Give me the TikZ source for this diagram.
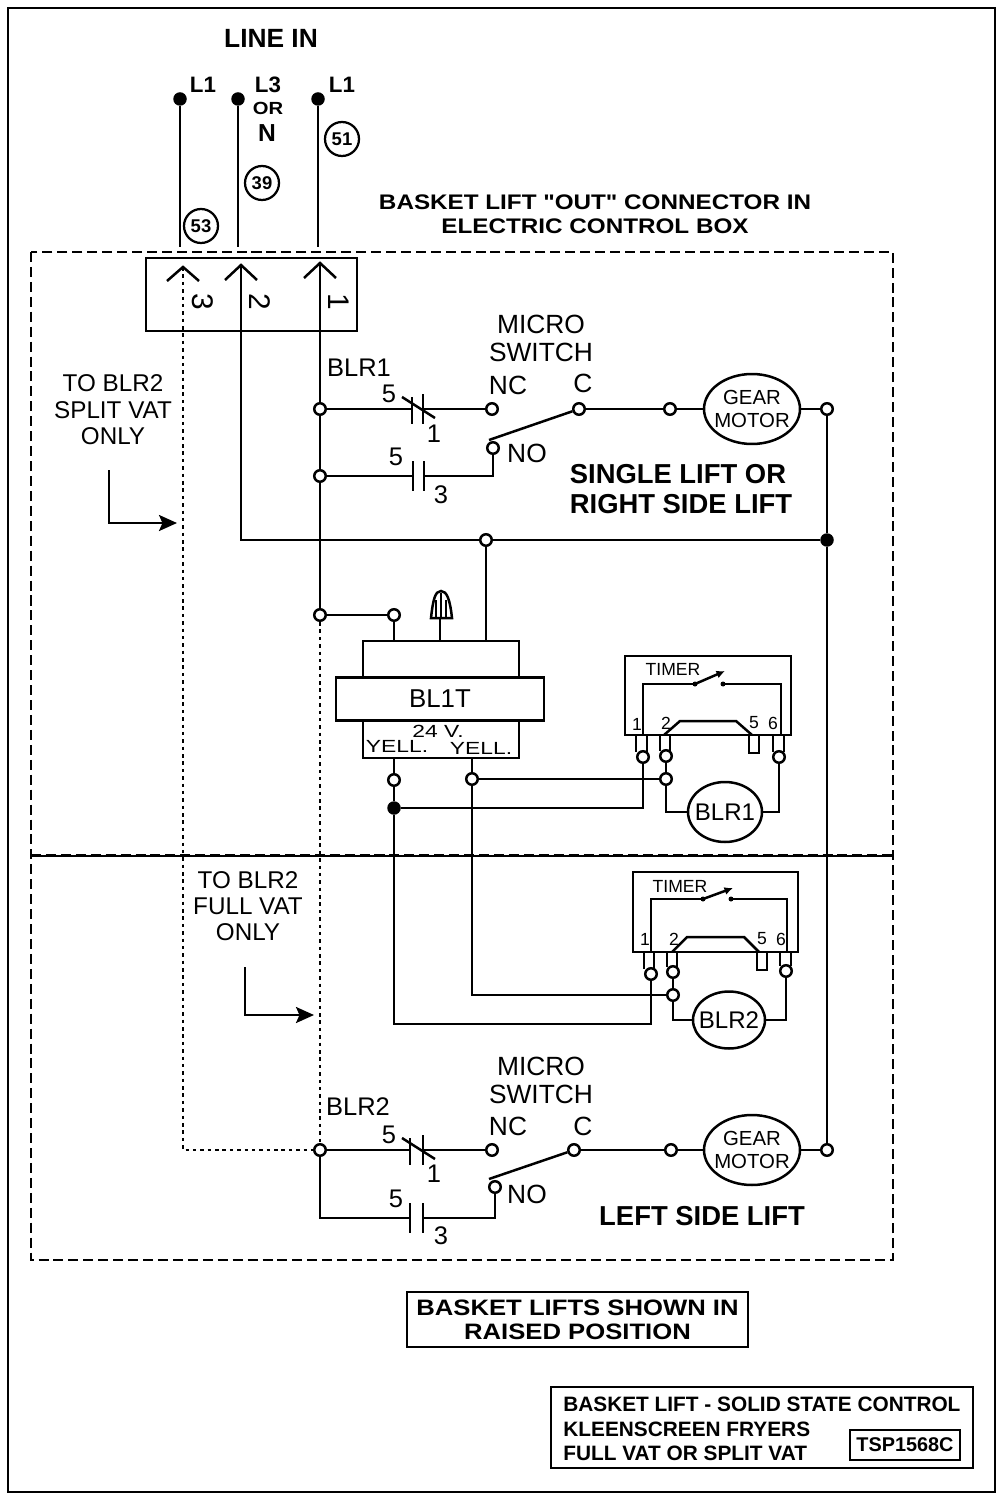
\documentclass[tikz,border=0pt]{standalone}
\usepackage{fontspec}
\setmainfont{Liberation Sans}
\newfontfamily\widebold[FakeStretch=1.15]{Liberation Sans Bold}
\newfontfamily\widereg[FakeStretch=1.3]{Liberation Sans}
\usetikzlibrary{shapes.geometric,arrows.meta}

\begin{document}
\begin{tikzpicture}[x=0.02cm,y=-0.02cm]
      \tikzset{
        every node/.style={inner sep=0pt},
        wire/.style={line width=0.05cm},
        dotwire/.style={line width=0.055cm,dash pattern=on 2pt off 2.2pt},
        frame/.style={line width=0.055cm},
        dashframe/.style={line width=0.04cm,dash pattern=on 5.7pt off 2.8pt},
        term/.style={circle,draw,line width=0.05cm,fill=white,minimum size=0.23cm},
        jdot/.style={circle,fill=black,minimum size=0.27cm},
        tag/.style={circle,draw,line width=0.045cm,minimum size=0.68cm,font=\bfseries\fontsize{10.5}{11}\selectfont},
        motor/.style={ellipse,draw,line width=0.05cm,fill=white,align=center,inner xsep=-0.1cm,font=\fontsize{11.6}{13}\selectfont},
        relay/.style={ellipse,draw,line width=0.05cm,inner xsep=-0.1cm,font=\fontsize{13.7}{14}\selectfont},
        micro/.style={font=\fontsize{15}{16}\selectfont,align=center},
        contact/.style={font=\fontsize{14.5}{15}\selectfont},
        pinno/.style={font=\fontsize{17}{17}\selectfont,rotate=-90},
        side/.style={font=\fontsize{13.8}{15}\selectfont,align=center},
        lift/.style={font=\bfseries\fontsize{15.6}{17}\selectfont,align=left},
        head/.style={font=\widebold\fontsize{12}{13.7}\selectfont,align=center},
        small/.style={font=\fontsize{10}{11}\selectfont},
        title/.style={font=\bfseries\fontsize{11.85}{14}\selectfont,align=left},
        bigtip/.style={-{Stealth[length=0.36cm,width=0.32cm,inset=0.07cm]}},
        smalltip/.style={-{Latex[length=0.17cm,width=0.16cm]}}
      }
      \useasboundingbox (0,0) rectangle (1000,1496);
      \draw[frame] (8,8) rectangle (995,1492);

      % line in
      \node[font=\bfseries\fontsize{15}{16}\selectfont] (linein) at (271,38) {LINE IN};
      \node[jdot] (p1) at (180,99) {};
      \node[jdot] (p2) at (238,99) {};
      \node[jdot] (p3) at (318,99) {};
      \node[font=\bfseries\fontsize{12.7}{13}\selectfont] (l1a) at (203,85) {L1};
      \node[font=\bfseries\fontsize{12.7}{13}\selectfont] (l3) at (268,85) {L3};
      \node[font=\widebold\fontsize{10}{11}\selectfont] (lor) at (268,108) {OR};
      \node[font=\bfseries\fontsize{14}{15}\selectfont] (ln) at (267,133) {N};
      \node[font=\bfseries\fontsize{12.7}{13}\selectfont] (l1b) at (342,85) {L1};
      \node[tag] (w53) at (201,226) {53};
      \node[tag] (w39) at (262,183) {39};
      \node[tag] (w51) at (342,139) {51};
      \coordinate (e1) at (180,247);
      \coordinate (e2) at (238,247);
      \coordinate (e3) at (318,247);
      \draw[wire] (p1) -- (e1) (p2) -- (e2) (p3) -- (e3);

      \node[head] (boxhead) at (595,214) {BASKET LIFT "OUT" CONNECTOR IN\\ELECTRIC CONTROL BOX};
      \draw[dashframe] (31,252) rectangle (893,1260);
      \draw[dashframe] (31,855) -- (893,855);
      \draw[line width=0.03cm] (31,856) -- (893,856);

      % connector
      \draw[frame] (146,258) rectangle (357,331);
      \coordinate (a3) at (183,267);
      \coordinate (a2) at (241,265);
      \coordinate (a1) at (320,263);
      \draw[wire] (a3) ++(-16,14) -- (a3) -- ++(16,14);
      \draw[wire] (a2) ++(-16,15) -- (a2) -- ++(16,15);
      \draw[wire] (a1) ++(-16,15) -- (a1) -- ++(16,15);
      \node[pinno] (n3) at (203,302) {3};
      \node[pinno] (n2) at (260,302) {2};
      \node[pinno] (n1) at (339,302) {1};

      % terminals
      \node[term] (t1) at (320,409) {};
      \node[term] (t2) at (320,476) {};
      \node[term] (t3) at (320,615) {};
      \node[term] (t4) at (394,615) {};
      \node[term] (t5) at (486,540) {};
      \node[jdot] (j1) at (827,540) {};
      \node[term] (nc1) at (492,409) {};
      \node[term] (c1) at (579,409) {};
      \node[term] (no1) at (493,448) {};
      \node[term] (m1) at (670,409) {};
      \node[term] (r1) at (827,409) {};
      \node[motor,minimum width=1.92cm,minimum height=1.4cm] (gear1) at (752,409) {GEAR\\MOTOR};
      \node[term] (t6) at (320,1150) {};
      \node[term] (nc2) at (492,1150) {};
      \node[term] (c2) at (574,1150) {};
      \node[term] (no2) at (495,1187) {};
      \node[term] (m2) at (671,1150) {};
      \node[term] (r2) at (827,1150) {};
      \node[motor,minimum width=1.92cm,minimum height=1.4cm] (gear2) at (752,1150) {GEAR\\MOTOR};

      % main wires
      \draw[dotwire] (a3) -- (183,1150) -- (t6);
      \draw[dotwire] (t3) -- (t6);
      \draw[wire] (a2) |- (t5);
      \draw[wire] (t5) -- (j1);
      \draw[wire] (a1) -- (t1);
      \draw[wire] (t1) -- (t2);
      \draw[wire] (t2) -- (t3);
      \draw[wire] (t3) -- (t4);
      \draw[wire] (r1) -- (j1);
      \draw[wire] (j1) -- (r2);

      % single lift
      \node[micro] (sw1) at (541,338) {MICRO\\SWITCH};
      \node[contact] (b1) at (359,368) {BLR1};
      \node[contact] (c1a) at (389,394) {5};
      \node[contact] (c1b) at (434,434) {1};
      \node[contact] (c1c) at (396,457) {5};
      \node[contact] (c1d) at (441,495) {3};
      \node[micro] (lnc1) at (508,385) {NC};
      \node[micro] (lc1) at (583,383) {C};
      \node[micro] (lno1) at (527,453) {NO};
      \coordinate (k1) at (412,409);
      \coordinate (k2) at (423,409);
      \coordinate (k3) at (413,476);
      \coordinate (k4) at (424,476);
      \coordinate (arm1) at (489,440);
      \draw[wire] (t1) -- (k1) (k2) -- (nc1);
      \draw[wire] (k1) ++(0,-12) -- ++(0,27);
      \draw[wire] (k2) ++(0,-15) -- ++(0,30);
      \draw[wire] (402,397) -- (435,418);
      \draw[wire] (t2) -- (k3) (k4) -| (no1);
      \draw[wire] (k3) ++(0,-15) -- ++(0,30);
      \draw[wire] (k4) ++(0,-15) -- ++(0,30);
      \draw[wire] (arm1) -- (c1);
      \draw[wire] (c1) -- (m1);
      \draw[wire] (m1) -- (gear1);
      \draw[wire] (gear1) -- (r1);
      \node[lift] (right) at (681,489) {SINGLE LIFT OR\\RIGHT SIDE LIFT};

      % side notes
      \node[side] (split) at (113,410) {TO BLR2\\SPLIT VAT\\ONLY};
      \coordinate (s1) at (109,470);
      \coordinate (s2) at (177,523);
      \draw[wire,bigtip] (s1) |- (s2);
      \node[side] (full) at (248,906) {TO BLR2\\FULL VAT\\ONLY};
      \coordinate (s3) at (245,967);
      \coordinate (s4) at (314,1015);
      \draw[wire,bigtip] (s3) |- (s4);

      % transformer
      \draw[wire] (363,641) rectangle (519,758);
      \node[draw,frame,fill=white,minimum width=4.16cm,minimum height=0.86cm,font=\fontsize{14.7}{15}\selectfont] (bl1t) at (440,699) {BL1T};
      \node[font=\widereg\fontsize{10}{11}\selectfont] (v24) at (438,731) {24 V.};
      \node[font=\widereg\fontsize{10}{11}\selectfont] (y1) at (397,746) {YELL.};
      \node[font=\widereg\fontsize{10}{11}\selectfont] (y2) at (481,748) {YELL.};
      \coordinate (nut) at (440,641);
      \draw[wire] (nut) -- (440,618);
      \draw[wire,fill=white] (431,618) .. controls (433,600) and (435,591) .. (441,591) .. controls (447,591) and (450,600) .. (452,618) -- cycle;
      \draw[line width=0.03cm] (436,600) -- (436,617) (441,593) -- (441,617) (446,600) -- (446,617);
      \draw[wire] (t4) -- (394,641);
      \draw[wire] (t5) -- (486,641);
      \node[term] (t7) at (394,780) {};
      \node[term] (t8) at (472,779) {};
      \node[jdot] (j2) at (394,808) {};
      \draw[wire] (394,758) -- (t7);
      \draw[wire] (472,758) -- (t8);
      \draw[wire] (t7) -- (j2);

      % first timer
      \draw[frame] (625,656) rectangle (791,735);
      \node[small] (tm1) at (673,669) {TIMER};
      \node[small] (p1a) at (637,724) {1};
      \node[small] (p1b) at (666,723) {2};
      \node[small] (p1c) at (754,723) {5};
      \node[small] (p1d) at (773,723) {6};
      \draw[wire] (643,735) |- (695,684);
      \draw[wire] (723,684) -| (781,735);
      \draw[wire,smalltip] (695,684) -- (725,671);
      \fill (723,684) circle (2.5);
      \fill (695,684) circle (2.5);
      \draw[wire] (664,735) -- (680,721) -- (736,721) -- (752,735);
      \node[term] (q1) at (643,757) {};
      \node[term] (q2) at (666,756) {};
      \node[term] (q6) at (779,757) {};
      \node[term] (q3) at (666,779) {};
      \draw[wire] (636,735) -- (636,752) (647,735) -- (647,752);
      \draw[wire] (660,735) -- (660,751) (670,735) -- (670,751);
      \draw[wire] (749,735) -- (749,753) -- (759,753) -- (759,735);
      \draw[wire] (773,735) -- (773,752) (784,735) -- (784,752);
      \node[relay,minimum width=1.48cm,minimum height=1.2cm] (blr1) at (725,812) {BLR1};
      \draw[wire] (q2) -- (q3);
      \draw[wire] (q3) |- (blr1.west);
      \draw[wire] (blr1.east) -| (q6);
      \draw[wire] (t8) -- (q3);
      \draw[wire] (j2) -| (q1);

      % second timer
      \draw[frame] (633,872) rectangle (798,952);
      \node[small] (tm2) at (680,886) {TIMER};
      \node[small] (p2a) at (645,939) {1};
      \node[small] (p2b) at (674,939) {2};
      \node[small] (p2c) at (762,939) {5};
      \node[small] (p2d) at (781,939) {6};
      \draw[wire] (651,952) |- (703,899);
      \draw[wire] (731,899) -| (787,952);
      \draw[wire,smalltip] (703,899) -- (733,888);
      \fill (703,899) circle (2.5);
      \fill (731,899) circle (2.5);
      \draw[wire] (672,952) -- (687,937) -- (744,937) -- (759,952);
      \node[term] (s1a) at (651,974) {};
      \node[term] (s2a) at (673,972) {};
      \node[term] (s6a) at (786,971) {};
      \node[term] (s3a) at (673,995) {};
      \draw[wire] (644,952) -- (644,969) (654,952) -- (654,969);
      \draw[wire] (667,952) -- (667,967) (677,952) -- (677,967);
      \draw[wire] (757,952) -- (757,970) -- (767,970) -- (767,952);
      \draw[wire] (780,952) -- (780,966) (791,952) -- (791,966);
      \node[relay,minimum width=1.44cm,minimum height=1.14cm] (blr2) at (729,1020) {BLR2};
      \draw[wire] (s2a) -- (s3a);
      \draw[wire] (s3a) |- (blr2.west);
      \draw[wire] (blr2.east) -| (s6a);
      \draw[wire] (t8) |- (s3a);
      \coordinate (bend) at (651,1024);
      \draw[wire] (j2) |- (bend) -- (s1a);

      % left side lift
      \node[micro] (sw2) at (541,1080) {MICRO\\SWITCH};
      \node[contact] (b2) at (358,1107) {BLR2};
      \node[contact] (c2a) at (389,1135) {5};
      \node[contact] (c2b) at (434,1174) {1};
      \node[contact] (c2c) at (396,1199) {5};
      \node[contact] (c2d) at (441,1236) {3};
      \node[micro] (lnc2) at (508,1126) {NC};
      \node[micro] (lc2) at (583,1126) {C};
      \node[micro] (lno2) at (527,1194) {NO};
      \coordinate (k5) at (410,1150);
      \coordinate (k6) at (423,1150);
      \coordinate (k7) at (410,1218);
      \coordinate (k8) at (423,1218);
      \coordinate (arm2) at (489,1179);
      \draw[wire] (t6) -- (k5) (k6) -- (nc2);
      \draw[wire] (k5) ++(0,-12) -- ++(0,27);
      \draw[wire] (k6) ++(0,-15) -- ++(0,30);
      \draw[wire] (402,1138) -- (435,1159);
      \draw[wire] (t6) |- (k7);
      \draw[wire] (k8) -| (no2);
      \draw[wire] (k7) ++(0,-15) -- ++(0,30);
      \draw[wire] (k8) ++(0,-15) -- ++(0,30);
      \draw[wire] (arm2) -- (c2);
      \draw[wire] (c2) -- (m2);
      \draw[wire] (m2) -- (gear2);
      \draw[wire] (gear2) -- (r2);
      \node[lift] (left) at (702,1216) {LEFT SIDE LIFT};

      % boxes at the bottom
      \node[draw,frame,minimum width=6.82cm,minimum height=1.1cm,align=center,font=\widebold\fontsize{12.7}{13.7}\selectfont] (raised) at (577.5,1319.5) {BASKET LIFTS SHOWN IN\\RAISED POSITION};
      \draw[frame] (551,1387) rectangle (973,1468);
      \node[title,anchor=west] (t1a) at (563,1404) {BASKET LIFT - SOLID STATE CONTROL};
      \node[title,anchor=west] (t1b) at (563,1429) {KLEENSCREEN FRYERS};
      \node[title,anchor=west] (t1c) at (563,1453) {FULL VAT OR SPLIT VAT};
      \node[draw,line width=0.03cm,minimum width=2.2cm,minimum height=0.6cm,font=\bfseries\fontsize{11.3}{12}\selectfont] (tsp) at (905,1445) {TSP1568C};
    \end{tikzpicture}
\end{document}
